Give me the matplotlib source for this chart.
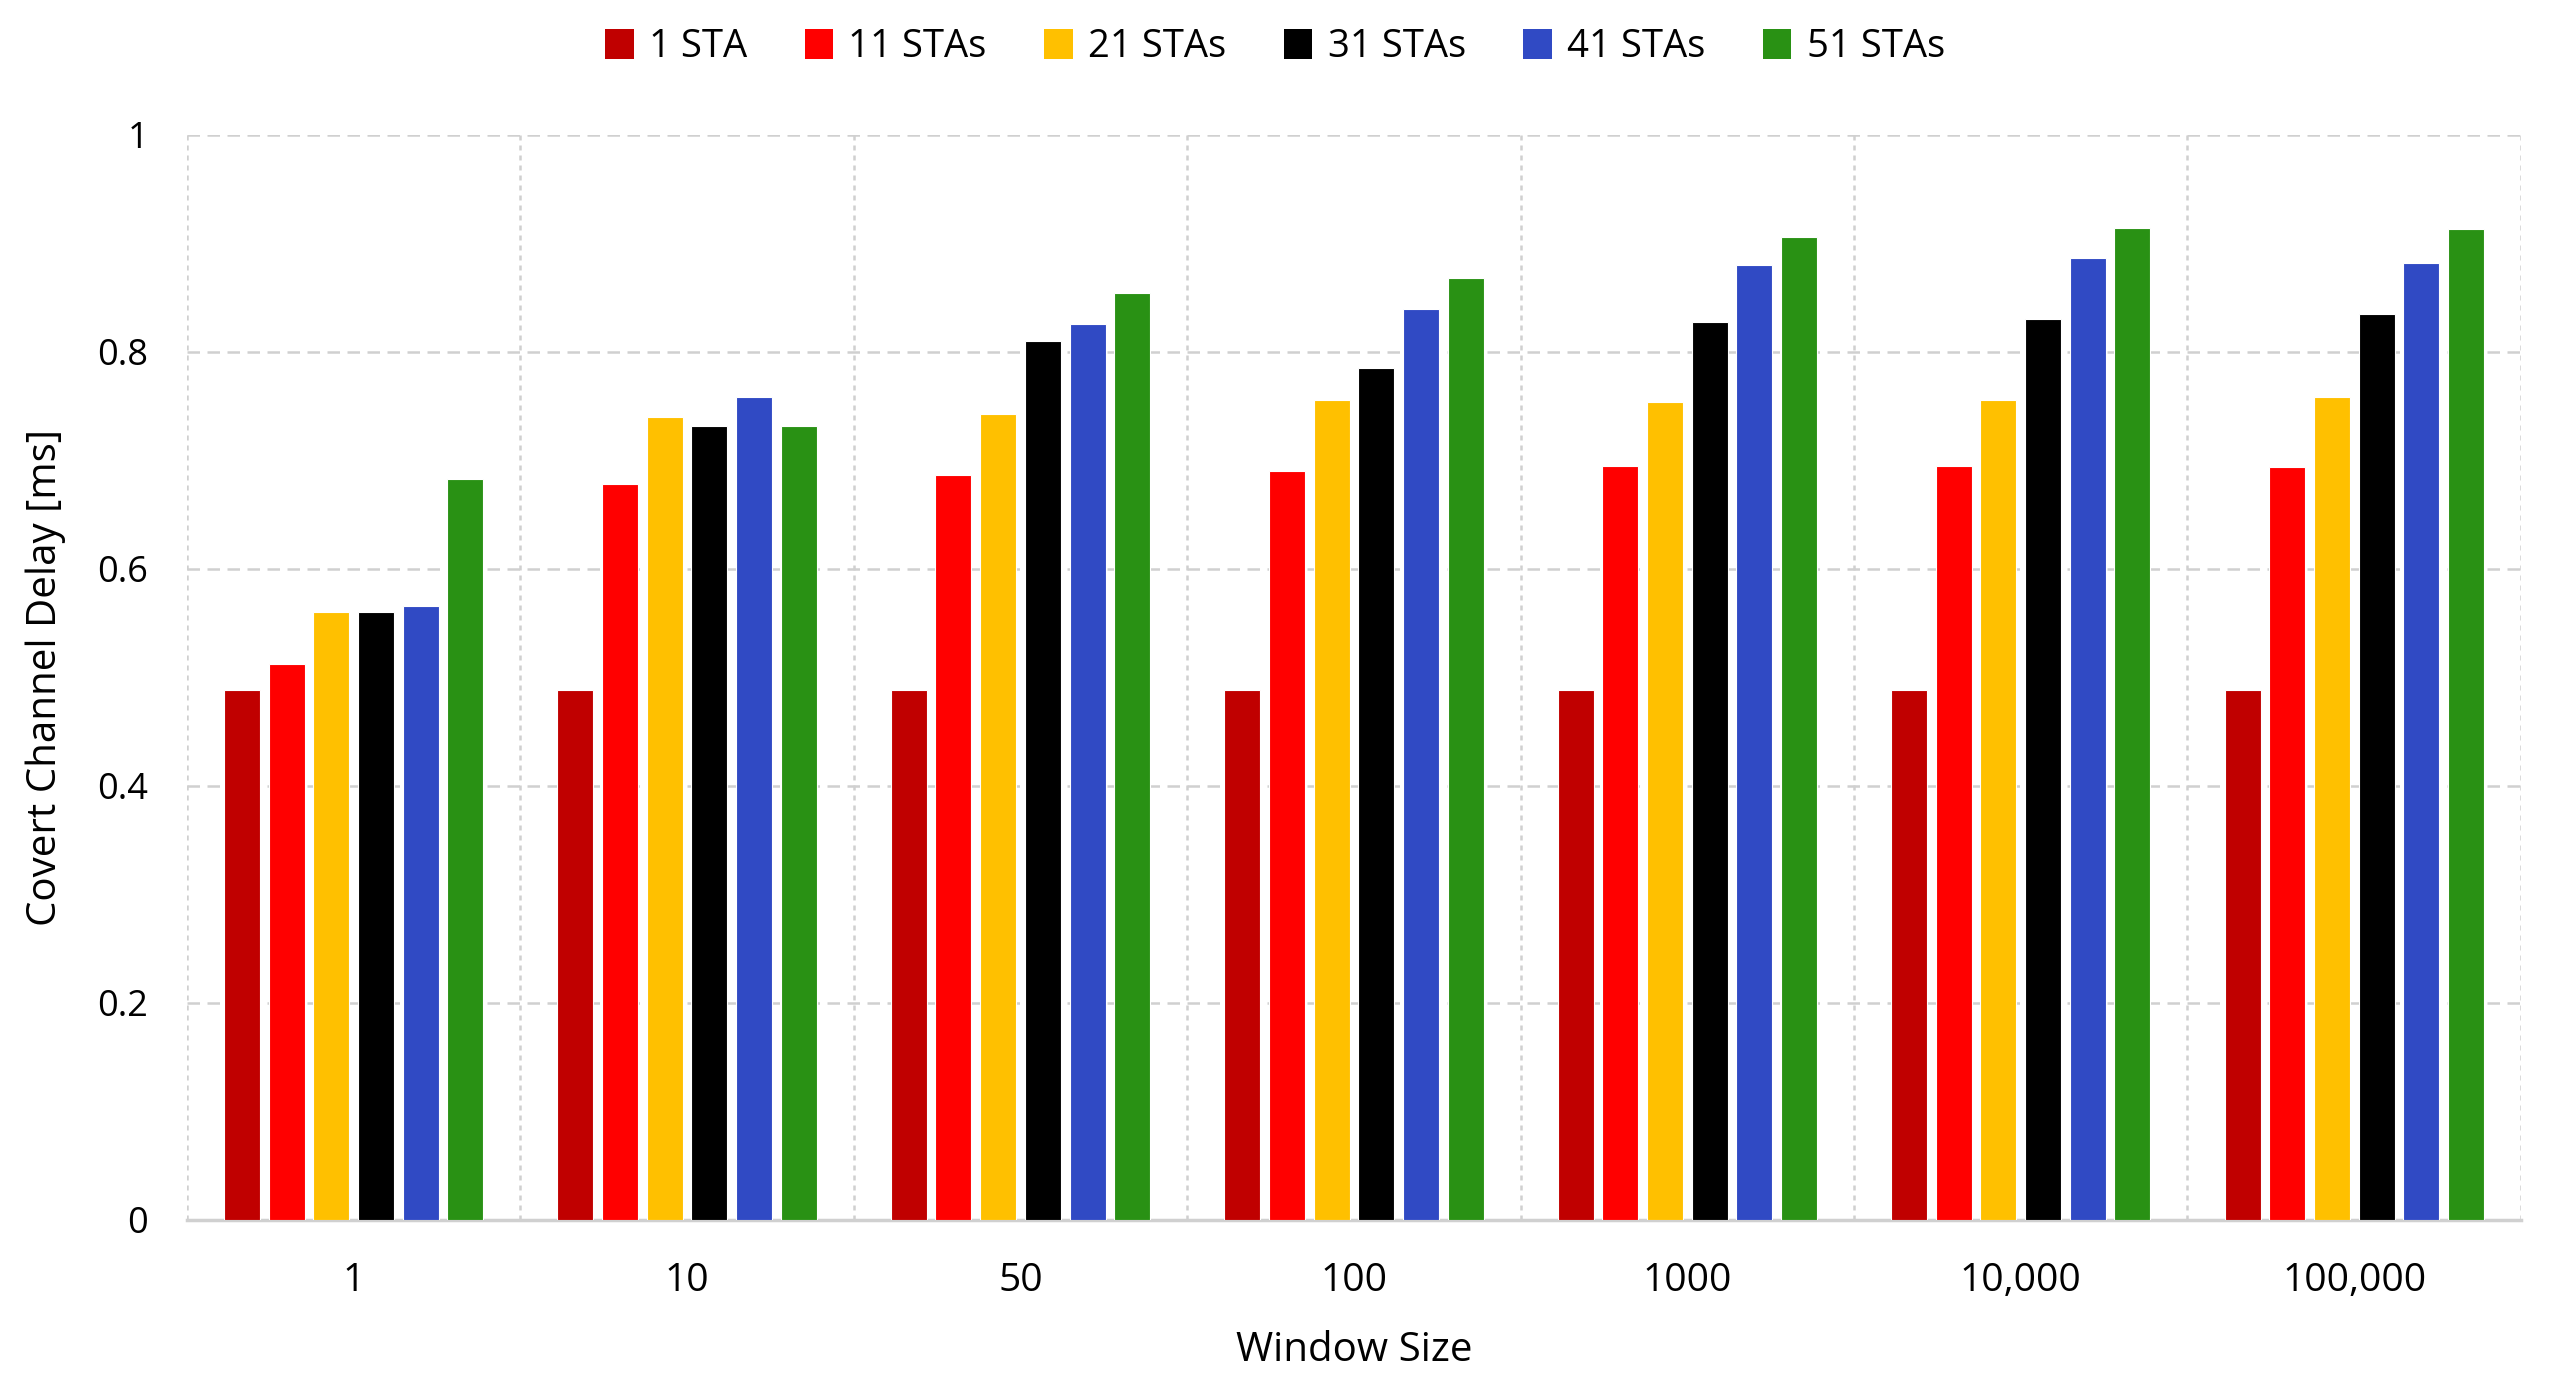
import numpy as np
import matplotlib
matplotlib.use("Agg")
import matplotlib.pyplot as plt
from matplotlib.patches import Patch

plt.rcParams['font.family'] = ['Open Sans', 'DejaVu Sans']

window_sizes = ['1', '10', '50', '100', '1000', '10,000', '100,000']
series_names = ['1 STA', '11 STAs', '21 STAs', '31 STAs', '41 STAs', '51 STAs']
colours = ['#C00000', '#FF0000', '#FFC000', '#000000', '#304AC4', '#299114']

sta_1 = [0.488, 0.488, 0.488, 0.488, 0.488, 0.488, 0.488]
sta_11 = [0.512, 0.678, 0.687, 0.690, 0.695, 0.695, 0.694]
sta_21 = [0.560, 0.740, 0.743, 0.756, 0.754, 0.756, 0.758]
sta_31 = [0.560, 0.732, 0.810, 0.785, 0.828, 0.830, 0.835]
sta_41 = [0.566, 0.758, 0.826, 0.840, 0.880, 0.887, 0.882]
sta_51 = [0.683, 0.732, 0.854, 0.868, 0.906, 0.914, 0.913]
all_series = [sta_1, sta_11, sta_21, sta_31, sta_41, sta_51]

fig = plt.figure(figsize=(25.5, 13.91), dpi=100)
ax = fig.add_axes([0.0733, 0.123, 0.9153, 0.780])

x = np.arange(len(window_sizes))
slot = 0.134
bar_w = 0.108
for i, (vals, col) in enumerate(zip(all_series, colours)):
    offs = (i - 2.5) * slot
    ax.bar(x + offs, vals, width=bar_w, color=col, edgecolor='white',
           linewidth=0.8, zorder=3)

ax.set_xlim(-0.5, len(window_sizes) - 0.5)
ax.set_ylim(0, 1)
ax.set_yticks(np.arange(0, 1.01, 0.2))
ax.set_yticklabels(['0', '0.2', '0.4', '0.6', '0.8', '1'])
ax.set_xticks(x)
ax.set_xticklabels(window_sizes)
ax.set_xticks(np.arange(-0.5, len(window_sizes)), minor=True)

ax.tick_params(axis='both', which='both', length=0, colors='#000000')
ax.tick_params(axis='x', labelsize=28, pad=30)
ax.tick_params(axis='y', labelsize=26, pad=28)

ax.grid(axis='y', which='major', color='#D0D0D0', linestyle='--', linewidth=1.8,
        dashes=(5, 3), zorder=0)
ax.grid(axis='x', which='minor', color='#D0D0D0', linestyle='--', linewidth=1.8,
        dashes=(2, 2), zorder=0)
for side in ['top', 'left', 'right']:
    ax.spines[side].set_visible(False)
ax.spines['bottom'].set_color('#D0D0D0')
ax.spines['bottom'].set_linewidth(2.5)

ax.set_xlabel('Window Size', fontsize=29, labelpad=22)
ax.set_ylabel('Covert Channel Delay [ms]', fontsize=29, labelpad=22)

handles = [Patch(facecolor=c, edgecolor='none') for c in colours]
fig.legend(handles, series_names, loc='center', bbox_to_anchor=(0.5, 0.966),
           ncol=6, frameon=False, fontsize=27.5, handlelength=0.75, handleheight=0.8,
           handletextpad=0.4, columnspacing=1.5)

fig.savefig('out.png', dpi=100, facecolor='white')
